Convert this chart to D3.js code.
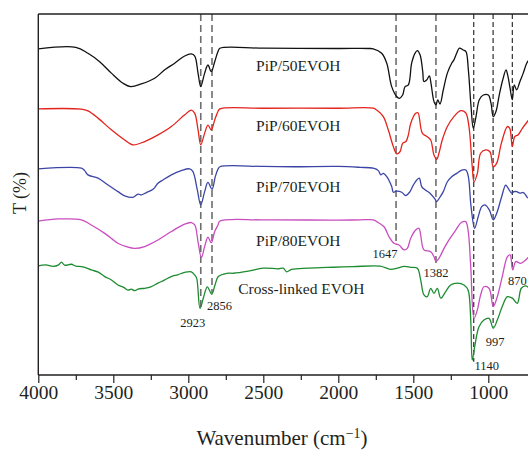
<!DOCTYPE html>
<html>
<head>
<meta charset="utf-8">
<script src="https://cdn.jsdelivr.net/npm/d3@7"></script>
<style>
  body { margin: 0; background: #fff; }
  svg text { font-family: "Liberation Serif", "DejaVu Serif", serif; fill: #231f20; }
</style>
</head>
<body>
<div id="ftir-chart"></div>
<script>

// wavenumber (cm-1), transmittance (offset, a.u.)
var pip50 = [[4000,108.7],[3750,109.2],[3669,107.2],[3591,104.4],[3513,100.6],[3435,97.2],[3384,96.1],[3313,97],[3224,98.9],[3157,101.7],[3091,103.9],[3024,106.3],[2980,107],[2957,106.3],[2935,100.6],[2917,96.1],[2891,100.6],[2869,103.3],[2847,101.1],[2824,104.4],[2802,107.8],[2789,108.9],[2500,108.9],[2000,108.8],[1800,108.8],[1767,108.7],[1711,107.2],[1677,103.9],[1644,96.1],[1611,92.8],[1593,92.2],[1571,93.3],[1555,96.1],[1533,96.7],[1511,103.9],[1489,107.2],[1473,108.1],[1455,106.7],[1437,101.1],[1429,97.8],[1411,98.3],[1393,99.7],[1382,97.2],[1362,91.1],[1349,90],[1337,91.7],[1322,90.3],[1300,95],[1273,100.6],[1244,103.9],[1229,105],[1211,107.2],[1193,108.9],[1167,108.3],[1149,107.8],[1133,101.7],[1115,89.4],[1100,82.2],[1082,86.1],[1060,91.7],[1033,93.3],[1000,93.3],[982,90.6],[967,86.1],[949,87.8],[927,93.3],[904,98.3],[882,101.7],[871,100],[855,95.6],[840,91.7],[827,96.7],[811,95],[789,97.8],[767,100.6],[744,103.9],[730,105]];

var pip60 = [[4000,88.7],[3713,88.6],[3669,88],[3602,85.6],[3513,81.7],[3424,78.3],[3369,76.7],[3291,77.8],[3202,80],[3113,82.8],[3024,86.7],[2980,88.3],[2957,87.2],[2935,81.7],[2917,76.7],[2891,80.6],[2869,83.3],[2847,81.7],[2824,85],[2802,87.8],[2789,88.7],[2500,88.9],[2000,88.9],[1767,88.9],[1744,88.3],[1700,86.1],[1667,81.7],[1633,76.1],[1611,73.7],[1589,74.4],[1571,77.2],[1549,77.8],[1533,80],[1517,83.9],[1484,87.2],[1469,87.4],[1440,80.6],[1407,79.4],[1384,78.3],[1362,73.3],[1344,71.9],[1329,73.9],[1307,78.3],[1273,82.8],[1229,86.1],[1184,88.1],[1151,87.4],[1129,82.8],[1107,69.4],[1095,64.4],[1073,67.2],[1051,73.9],[1017,75],[989,74.4],[967,69.4],[944,70.6],[913,77.2],[873,82.8],[857,82.2],[840,76.1],[824,79.4],[802,80],[773,82.2],[740,84.4],[730,85]];

var pip70 = [[4000,68.7],[3713,68.9],[3691,68.1],[3669,66.7],[3602,65.6],[3535,63.3],[3469,61.1],[3424,59.7],[3369,59.2],[3335,60.3],[3313,60],[3280,60.8],[3235,61.9],[3202,63.9],[3169,65],[3113,66.7],[3047,68.1],[2991,68.7],[2969,67.8],[2940,61.7],[2917,56.7],[2891,61.1],[2869,64.2],[2842,61.9],[2820,66.1],[2802,68.6],[2789,69.4],[2500,69.5],[2300,69.4],[2000,69.5],[1855,69.2],[1767,68.9],[1733,68.1],[1717,66.7],[1700,67.2],[1677,66.1],[1644,62.8],[1633,60.9],[1611,61.3],[1577,60.9],[1551,59.8],[1522,61.1],[1500,63.3],[1477,65],[1460,65.6],[1444,62.8],[1422,61.7],[1389,60.6],[1355,58.6],[1344,57.8],[1327,58.9],[1300,61.1],[1273,64.4],[1244,66.1],[1211,67.2],[1177,68.3],[1149,68.3],[1133,66.1],[1115,56.1],[1091,48.9],[1067,52.8],[1044,56.1],[1022,56.7],[993,55],[967,51.7],[944,53.9],[911,59.4],[884,63.3],[867,62.2],[844,60.6],[829,61.1],[811,61.1],[789,60.6],[767,60.8],[737,58.9]];

var pip80 = [[4000,51.3],[3865,52],[3713,51.7],[3647,50],[3557,47.2],[3469,43.9],[3413,42.8],[3357,42.2],[3291,42.8],[3202,45],[3113,47.8],[3024,50.3],[2980,50.8],[2957,50],[2935,44.4],[2913,39.1],[2891,42.8],[2869,45.9],[2847,44.1],[2824,47.8],[2802,50],[2789,51.3],[2500,51.7],[2000,51.6],[1855,51.7],[1767,51.7],[1744,51.1],[1695,49.4],[1662,46.1],[1629,43.9],[1595,43.3],[1562,41.7],[1540,42.2],[1517,45.6],[1484,48.3],[1462,48.9],[1451,46.7],[1429,41.7],[1384,41.1],[1362,39.4],[1349,37.8],[1329,38.9],[1295,42.2],[1262,45],[1217,48.3],[1180,50.8],[1151,51.1],[1135,48.3],[1117,36.1],[1095,18.9],[1073,21.7],[1051,26.7],[1029,29.4],[995,28.9],[967,22.8],[940,26.1],[907,32.8],[873,39.4],[855,40],[837,35],[817,37.8],[784,37.2],[751,38.3],[735,39.2]];

var crossEvoh = [[4000,36.4],[3950,36.7],[3900,36.2],[3865,36.7],[3845,37.6],[3825,36.6],[3780,36.9],[3750,36.3],[3713,36.1],[3680,35.7],[3647,35],[3600,34.3],[3557,32.8],[3510,31.6],[3469,30],[3430,29.2],[3402,28.3],[3380,28.6],[3357,28.1],[3330,28.7],[3291,28.9],[3250,29.4],[3202,30.6],[3160,31.6],[3113,32.8],[3070,33.4],[3024,34.2],[2980,34.4],[2957,33.3],[2944,32.2],[2922,22.2],[2900,25.6],[2873,29.4],[2844,26.9],[2822,30],[2800,32.8],[2744,33.9],[2700,33.9],[2600,34.6],[2500,35.6],[2400,35.4],[2367,35.6],[2344,34.4],[2311,35.2],[2200,35.6],[2033,35.9],[1900,36.1],[1722,36.3],[1651,35.2],[1607,35.6],[1560,36.2],[1517,35.9],[1473,35.6],[1451,31.7],[1429,26.7],[1407,26.1],[1384,28.9],[1362,27.2],[1340,28.9],[1317,25.6],[1284,27.8],[1251,30],[1207,30.6],[1162,30],[1135,28.3],[1117,18.3],[1107,5],[1091,9.4],[1062,16.1],[1029,18.3],[995,18.9],[967,15.6],[940,18.3],[907,22.8],[873,26.1],[840,25.6],[807,23.9],[780,28.9],[751,29.7],[735,29.2]];

var seriesNames = ["PiP/50EVOH", "PiP/60EVOH", "PiP/70EVOH", "PiP/80EVOH", "Cross-linked EVOH"];
var seriesData = [pip50, pip60, pip70, pip80, crossEvoh];
var seriesColors = ["#111111", "#e3231c", "#3b45a6", "#c94dbe", "#1d8b30"];

// assigned bands: label, drawn wavenumber, lower end of the dashed line
var peakLabels = ["2923", "2856", "1647", "1382", "1140", "997", "870"];
var peakWn = [2917, 2842, 1615, 1349, 1097, 968, 840];
var peakEnd = [22.3, 27.3, 43.3, 37.3, 4.4, 16.1, 35.6];

var majorTicks = [4000, 3500, 3000, 2500, 2000, 1500, 1000];
var minorTicks = [3750, 3250, 2750, 2250, 1750, 1250];

var margin = {top: 14, right: 0, bottom: 76, left: 38.3},
    width = 528, height = 451,
    boundedWidth = width - margin.left - margin.right,
    boundedHeight = height - margin.top - margin.bottom;

var svg = d3.select("#ftir-chart").append("svg")
  .attr("width", width)
  .attr("height", height);

var xScale = d3.scaleLinear()
  .domain([4000, 1000])
  .range([0, 450]);
var yScale = d3.scaleLinear()
  .domain([0, 120.3])
  .range([boundedHeight, 0]);

var plot = svg.append("g")
  .attr("transform", `translate(${margin.left},${margin.top})`);

plot.append("clipPath").attr("id", "plot-clip")
  .append("rect")
  .attr("x", 0).attr("y", 0)
  .attr("width", boundedWidth).attr("height", boundedHeight);

var lineGenerator = d3.line()
  .x(d => xScale(d[0]))
  .y(d => yScale(d[1]))
  .curve(d3.curveCatmullRom.alpha(0.5));

// dashed guides
var guides = plot.append("g").attr("clip-path", "url(#plot-clip)");
peakWn.forEach(function(wn, i) {
  var grey = i < 4;
  guides.append("line")
    .attr("x1", xScale(wn)).attr("x2", xScale(wn))
    .attr("y1", 0).attr("y2", yScale(peakEnd[i]))
    .attr("stroke", grey ? "#6d6d6d" : "#1a1a1a")
    .attr("stroke-width", grey ? 1.6 : 1.1)
    .attr("stroke-dasharray", grey ? "7,4" : "5,3");
});

var lines = plot.append("g").attr("clip-path", "url(#plot-clip)");
lines.selectAll(".spectrum")
  .data(seriesData)
  .enter().append("path")
  .attr("class", "spectrum")
  .attr("d", d => lineGenerator(d))
  .attr("fill", "none")
  .attr("stroke", (d, i) => seriesColors[i])
  .attr("stroke-width", 1.3)
  .attr("stroke-linejoin", "round");

// sample names, placed under each baseline
var nameDy = [21.7, 22.5, 23, 25, 28];
seriesNames.forEach(function(name, i) {
  var base = seriesData[i][0][1];
  plot.append("text")
    .attr("x", i == 4 ? 263 : 260)
    .attr("y", yScale(base) + nameDy[i])
    .attr("text-anchor", "middle")
    .style("font-size", "15.5px")
    .text(name);
});

// peak numbers
var labelOffset = [[-8, 19], [-5, 17], [-11, 13], [0, 13.7], [13, 8.5], [2, 19.3], [5, 16.4]];
peakLabels.forEach(function(lab, i) {
  plot.append("text")
    .attr("x", xScale(peakWn[i]) + labelOffset[i][0])
    .attr("y", yScale(peakEnd[i]) + labelOffset[i][1])
    .attr("text-anchor", i == 1 ? "start" : "middle")
    .style("font-size", "12.5px")
    .text(lab);
});

// frame: left axis and top border
plot.append("line")
  .attr("x1", 0).attr("x2", 0).attr("y1", 0).attr("y2", boundedHeight)
  .attr("stroke", "#231f20").attr("stroke-width", 1.4);
plot.append("line")
  .attr("x1", 0).attr("x2", boundedWidth).attr("y1", 0).attr("y2", 0)
  .attr("stroke", "#231f20").attr("stroke-width", 1.4);

var xAxis = d3.axisBottom(xScale)
  .tickValues(majorTicks)
  .tickSize(8)
  .tickSizeOuter(0)
  .tickFormat(d3.format("d"));
var xAxisMinor = d3.axisBottom(xScale)
  .tickValues(minorTicks)
  .tickSize(5)
  .tickFormat("");

var axisG = plot.append("g")
  .attr("transform", "translate(0," + boundedHeight + ")")
  .call(xAxis);
axisG.select(".domain").remove();
axisG.selectAll("line").attr("stroke", "#231f20").attr("stroke-width", 1.2);
axisG.selectAll("text")
  .attr("y", 10)
  .style("font-family", "'Liberation Serif', serif")
  .style("font-size", "19.5px")
  .attr("fill", "#231f20");

var minorG = plot.append("g")
  .attr("transform", "translate(0," + boundedHeight + ")")
  .call(xAxisMinor);
minorG.select(".domain").remove();
minorG.selectAll("line").attr("stroke", "#231f20").attr("stroke-width", 1.2);

plot.append("line")
  .attr("x1", 0).attr("x2", boundedWidth)
  .attr("y1", boundedHeight).attr("y2", boundedHeight)
  .attr("stroke", "#231f20").attr("stroke-width", 1.4);

// axis titles
var xTitle = svg.append("text")
  .attr("x", 282)
  .attr("y", 445)
  .attr("text-anchor", "middle")
  .style("font-size", "21px");
xTitle.append("tspan").text("Wavenumber (cm");
xTitle.append("tspan").attr("dy", -7).style("font-size", "14px").text("\u22121");
xTitle.append("tspan").attr("dy", 7).text(")");

svg.append("text")
  .attr("transform", "translate(26,193) rotate(-90)")
  .attr("text-anchor", "middle")
  .style("font-size", "18px")
  .text("T (%)");

</script>
</body>
</html>
